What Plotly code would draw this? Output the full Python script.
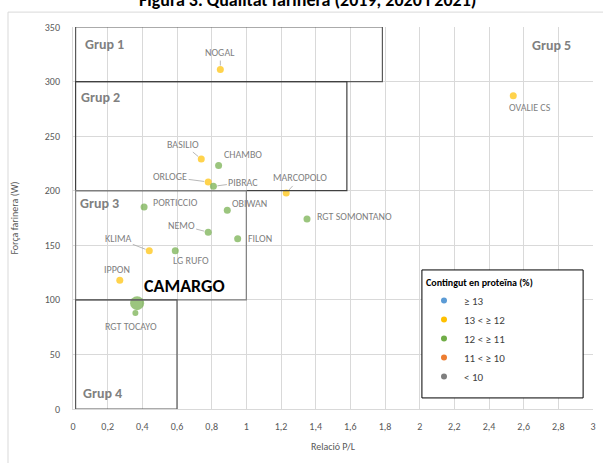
import plotly.graph_objects as go

# ---------------- data ----------------
varieties = ["NOGAL", "OVALIE CS", "BASILIO", "CHAMBO", "ORLOGE", "PIBRAC",
             "MARCOPOLO", "PORTICCIO", "OBIWAN", "RGT SOMONTANO", "NEMO",
             "FILON", "KLIMA", "LG RUFO", "IPPON", "CAMARGO", "RGT TOCAYO"]
ratio_pl = [0.85, 2.54, 0.74, 0.84, 0.78, 0.81, 1.23, 0.41, 0.89, 1.35, 0.78,
            0.95, 0.44, 0.59, 0.27, 0.37, 0.36]
force_w = [311, 287, 229, 223, 208, 204, 198, 185, 182, 174, 162, 156, 145,
           145, 118, 97, 88]
protein_class = ["13 < ≥ 12", "13 < ≥ 12", "13 < ≥ 12", "12 < ≥ 11", "13 < ≥ 12",
                 "12 < ≥ 11", "13 < ≥ 12", "12 < ≥ 11", "12 < ≥ 11", "12 < ≥ 11",
                 "12 < ≥ 11", "12 < ≥ 11", "13 < ≥ 12", "12 < ≥ 11", "13 < ≥ 12",
                 "12 < ≥ 11", "12 < ≥ 11"]
classes = ["≥ 13", "13 < ≥ 12", "12 < ≥ 11", "11 < ≥ 10", "< 10"]
x_ticks = [0, 0.2, 0.4, 0.6, 0.8, 1, 1.2, 1.4, 1.6, 1.8, 2, 2.2, 2.4, 2.6, 2.8, 3]
y_ticks = [0, 50, 100, 150, 200, 250, 300, 350]

# group boxes (P/L max, W min, W max)
grp_names = ["Grup 1", "Grup 2", "Grup 3", "Grup 4"]
grp_pl_max = [1.785, 1.58, 1.0, 0.6]
grp_w_min = [300, 200, 100, 0]
grp_w_max = [350, 300, 200, 100]

# ---------------- styles ----------------
FONT = "Carlito, Calibri, Lato, sans-serif"
class_colors = {"≥ 13": "#5B9BD5", "13 < ≥ 12": "#FFC000", "12 < ≥ 11": "#70AD47",
                "11 < ≥ 10": "#ED7D31", "< 10": "#7F7F7F"}
special_size = {"CAMARGO": 14, "RGT TOCAYO": 6}
# label offsets in px: (dx, dy, leader)
label_pos = {
    "NOGAL": (0, -17, True), "OVALIE CS": (17, 12, False),
    "BASILIO": (-18, -15, True), "CHAMBO": (24, -11, False),
    "ORLOGE": (-38, -5, True), "PIBRAC": (30, -4, True),
    "MARCOPOLO": (14, -15, True), "PORTICCIO": (31, -5, False),
    "OBIWAN": (22, -7, False), "RGT SOMONTANO": (47, -3, False),
    "NEMO": (-27, -7, True), "FILON": (22, 0, False),
    "KLIMA": (-31, -12, True), "LG RUFO": (16, 10, False),
    "IPPON": (-3, -11, False), "CAMARGO": (47, -17, False),
    "RGT TOCAYO": (-4, 14, False),
}

fig = go.Figure()

# data traces
for cls in classes:
    idx = [i for i, c in enumerate(protein_class) if c == cls]
    if not idx:
        continue
    fig.add_trace(go.Scatter(
        x=[ratio_pl[i] for i in idx], y=[force_w[i] for i in idx],
        mode="markers", showlegend=False, hoverinfo="text",
        text=[varieties[i] for i in idx],
        marker=dict(color=class_colors[cls],
                    size=[special_size.get(varieties[i], 7) for i in idx],
                    line=dict(width=0)),
    ))
# legend traces
for cls in classes:
    fig.add_trace(go.Scatter(
        x=[None], y=[None], mode="markers", name=cls,
        marker=dict(color=class_colors[cls], size=6),
    ))

# group boxes
grp_line = ["#595959", "#404040", "#7F7F7F", "#595959"]
for k in range(len(grp_names)):
    fig.add_shape(type="rect", x0=0.015, x1=grp_pl_max[k],
                  y0=grp_w_min[k], y1=grp_w_max[k],
                  line=dict(color=grp_line[k], width=1.2), layer="above")

grp_label_pos = {"Grup 1": (0.058, 334), "Grup 2": (0.035, 285),
                 "Grup 3": (0.029, 188), "Grup 4": (0.046, 14),
                 "Grup 5": (2.638, 333)}
for g, (gx, gy) in grp_label_pos.items():
    fig.add_annotation(x=gx, y=gy, text=f"<b>{g}</b>", showarrow=False,
                       xanchor="left", yanchor="middle",
                       font=dict(family=FONT, size=14, color="#808080"))

# point labels
for i, name in enumerate(varieties):
    dx, dy, leader = label_pos[name]
    if name == "CAMARGO":
        fig.add_annotation(x=ratio_pl[i], y=force_w[i], text="<b>CAMARGO</b>",
                           showarrow=False, xshift=dx, yshift=-dy,
                           font=dict(family=FONT, size=18, color="#000000"))
        continue
    if leader:
        fig.add_annotation(x=ratio_pl[i], y=force_w[i], text=name,
                           showarrow=True, ax=dx, ay=dy, arrowhead=0,
                           arrowwidth=0.8, arrowcolor="#A6A6A6", standoff=4,
                           font=dict(family=FONT, size=10, color="#7F7F7F"))
    else:
        fig.add_annotation(x=ratio_pl[i], y=force_w[i], text=name,
                           showarrow=False, xshift=dx, yshift=-dy,
                           font=dict(family=FONT, size=10, color="#7F7F7F"))

# title (cut off at top, as in reference)
fig.add_annotation(xref="paper", yref="paper", x=0.451, y=1.037,
                   xanchor="center", yanchor="bottom", showarrow=False,
                   text="<b>Figura 3. Qualitat farinera (2019, 2020 i 2021)</b>",
                   font=dict(family=FONT, size=18, color="#000000"))

# chart-area border
fig.add_shape(type="rect", xref="paper", yref="paper", x0=-0.125, x1=1.2,
              y0=-0.3, y1=1.039, line=dict(color="#D9D9D9", width=1),
              layer="below")

# legend frame
fig.add_shape(type="rect", xref="paper", yref="paper", x0=0.671, x1=0.981,
              y0=0.029, y1=0.364, line=dict(color="#000000", width=1),
              fillcolor="white", layer="above")

fig.update_layout(
    width=603, height=463,
    margin=dict(l=73, r=10, t=27, b=54, autoexpand=False),
    paper_bgcolor="white", plot_bgcolor="white",
    separators=",.",
    font=dict(family=FONT, size=10, color="#595959"),
    xaxis=dict(range=[0, 3], tickvals=x_ticks, showgrid=True,
               gridcolor="#D9D9D9", gridwidth=1, zeroline=False,
               showline=True, linecolor="#D9D9D9", ticks="",
               ticklabelstandoff=8, automargin=False,
               title=dict(text="Relació P/L", standoff=10,
                          font=dict(family=FONT, size=10, color="#595959")),
               tickfont=dict(family=FONT, size=10, color="#595959")),
    yaxis=dict(range=[0, 350], tickvals=y_ticks, showgrid=True,
               gridcolor="#D9D9D9", gridwidth=1, zeroline=False,
               showline=True, linecolor="#D9D9D9", ticks="",
               ticklabelstandoff=10, automargin=False,
               title=dict(text="Força farinera (W)", standoff=24,
                          font=dict(family=FONT, size=10, color="#595959")),
               tickfont=dict(family=FONT, size=10, color="#595959")),
    legend=dict(x=0.675, y=0.356, xanchor="left", yanchor="top",
                bgcolor="rgba(0,0,0,0)", borderwidth=0,
                title=dict(text="<b>Contingut en proteïna (%)</b>",
                           font=dict(family=FONT, size=10, color="#000000")),
                font=dict(family=FONT, size=11, color="#404040"),
                itemwidth=30, tracegroupgap=0),
    showlegend=True,
)

fig.write_html("out.html", config={"displayModeBar": False},
               post_script="document.body.style.margin='0';")
